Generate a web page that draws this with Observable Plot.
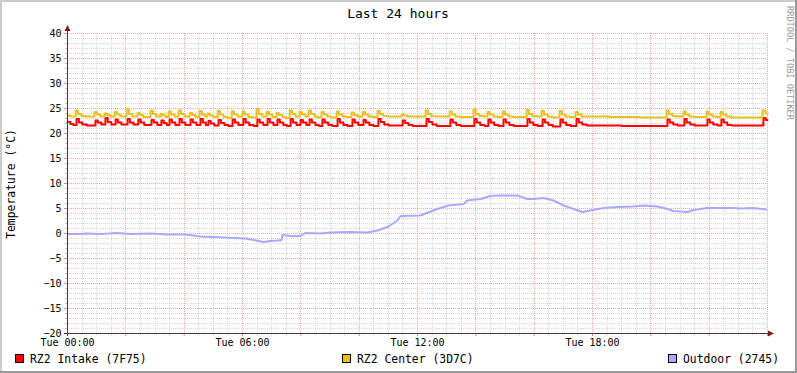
<!DOCTYPE html>
<html><head><meta charset="utf-8">
<script src="https://cdn.jsdelivr.net/npm/d3@7"></script>
<script src="https://cdn.jsdelivr.net/npm/@observablehq/plot@0.6"></script>
<style>
html,body{margin:0;padding:0;background:#fff;}
#chart{width:797px;height:373px;position:relative;overflow:hidden;}
svg{display:block;}
</style></head><body><div id="chart"></div>
<script>
// ---- data (hours since Tue 00:00, °C) ----
const titleText = "Last 24 hours";
const yAxisLabel = "Temperature (°C)";
const watermark = "RRDTOOL / TOBI OETIKER";
const seriesNames = ["RZ2 Intake (7F75)", "RZ2 Center (3D7C)", "Outdoor (2745)"];
const seriesColors = ["#ff0000", "#e9c020", "#a8a8ff"];
const xTickHours = [0, 6, 12, 18];
const xTickLabels = ["Tue 00:00", "Tue 06:00", "Tue 12:00", "Tue 18:00"];
const yTickValues = [-20, -15, -10, -5, 0, 5, 10, 15, 20, 25, 30, 35, 40];

const intake = [
[0.00,22.3],[0.10,21.9],[0.20,21.7],
[0.31,22.9],[0.39,22.2],[0.51,21.8],[0.66,21.6],
[0.96,22.6],[1.04,22.2],[1.16,21.8],
[1.30,23.1],[1.38,22.3],[1.50,21.8],
[1.65,22.8],[1.73,22.2],[1.85,21.8],
[2.06,22.9],[2.14,22.2],[2.26,21.8],
[2.43,22.8],[2.51,22.2],[2.63,21.7],
[2.88,22.7],[2.96,22.2],[3.08,21.7],
[3.22,22.6],[3.30,22.1],[3.40,21.7],
[3.50,22.8],[3.58,22.2],[3.70,21.7],
[3.84,22.9],[3.92,22.2],[4.04,21.7],
[4.22,22.8],[4.30,22.2],[4.42,21.7],
[4.56,22.9],[4.64,22.2],[4.74,21.7],
[4.83,22.5],[4.91,22.0],[5.03,21.6],
[5.18,22.7],[5.26,22.1],[5.38,21.7],[5.52,21.5],
[5.66,22.8],[5.74,22.2],[5.86,21.7],
[6.03,22.9],[6.11,22.2],[6.23,21.7],[6.38,21.5],
[6.51,22.8],[6.59,22.2],[6.71,21.7],
[6.86,22.9],[6.94,22.2],[7.06,21.7],
[7.20,22.8],[7.28,22.2],[7.40,21.7],[7.52,21.5],
[7.65,22.9],[7.73,22.2],[7.85,21.7],
[7.99,22.7],[8.07,22.2],[8.19,21.7],
[8.30,22.8],[8.38,22.2],[8.50,21.7],[8.62,21.5],
[8.74,22.8],[8.82,22.2],[8.94,21.7],[9.08,21.5],
[9.26,22.9],[9.34,22.2],[9.46,21.7],[9.60,21.5],
[9.77,22.8],[9.85,22.2],[9.97,21.7],
[10.15,22.7],[10.23,22.2],[10.35,21.7],[10.49,21.5],
[10.66,22.9],[10.74,22.3],[10.86,21.8],[11.01,21.6],
[11.49,22.6],[11.57,22.1],[11.69,21.7],[11.84,21.5],
[12.31,22.9],[12.39,22.3],[12.51,21.8],[12.66,21.5],
[13.13,22.8],[13.21,22.2],[13.33,21.7],[13.48,21.5],
[13.95,22.9],[14.03,22.2],[14.15,21.7],[14.30,21.5],
[14.43,22.8],[14.51,22.2],[14.63,21.7],[14.78,21.5],
[14.95,22.8],[15.03,22.2],[15.15,21.7],[15.30,21.5],
[15.77,22.9],[15.85,22.2],[15.97,21.7],[16.12,21.5],
[16.29,22.8],[16.37,22.2],[16.49,21.7],[16.64,21.4],
[16.90,22.8],[16.98,22.2],[17.10,21.7],[17.25,21.5],
[17.45,22.9],[17.53,22.2],[17.65,21.8],[17.80,21.6],[19.00,21.5],
[20.57,22.8],[20.65,22.2],[20.77,21.8],[20.92,21.6],
[21.15,22.9],[21.23,22.2],[21.35,21.8],[21.50,21.6],
[21.94,22.8],[22.02,22.2],[22.14,21.8],[22.29,21.6],
[22.42,22.8],[22.50,22.2],[22.62,21.7],[22.77,21.6],
[23.86,23.1],[23.94,22.7],[24.00,22.7]
];

const center = [
[0.00,23.6],[0.10,23.4],
[0.28,24.6],[0.36,23.9],[0.48,23.5],[0.63,23.4],
[0.93,24.3],[1.01,23.8],[1.13,23.4],
[1.27,24.0],[1.35,23.7],[1.47,23.4],
[1.62,24.3],[1.70,23.8],[1.82,23.4],
[2.03,24.8],[2.11,23.9],[2.23,23.4],
[2.40,24.1],[2.48,23.7],[2.60,23.3],
[2.85,24.6],[2.93,23.9],[3.05,23.4],
[3.19,23.9],[3.27,23.6],[3.37,23.3],
[3.47,24.4],[3.55,23.8],[3.67,23.4],
[3.81,24.6],[3.89,23.9],[4.01,23.4],
[4.19,24.1],[4.27,23.7],[4.39,23.3],
[4.53,24.5],[4.61,23.8],[4.71,23.4],
[4.80,24.0],[4.88,23.6],[5.00,23.3],
[5.15,24.5],[5.23,23.8],[5.35,23.3],[5.49,23.1],
[5.63,24.4],[5.71,23.8],[5.83,23.4],
[6.00,24.4],[6.08,23.8],[6.20,23.3],[6.35,23.2],
[6.48,24.9],[6.56,23.9],[6.68,23.4],
[6.83,24.3],[6.91,23.8],[7.03,23.3],
[7.17,24.1],[7.25,23.7],[7.37,23.3],[7.49,23.1],
[7.62,24.6],[7.70,23.9],[7.82,23.4],
[7.96,24.3],[8.04,23.8],[8.16,23.4],
[8.27,24.6],[8.35,23.9],[8.47,23.4],[8.59,23.2],
[8.71,24.3],[8.79,23.8],[8.91,23.4],[9.05,23.2],
[9.23,24.4],[9.31,23.8],[9.43,23.4],[9.57,23.3],
[9.74,24.2],[9.82,23.7],[9.94,23.4],
[10.12,24.3],[10.20,23.8],[10.32,23.4],[10.46,23.3],
[10.63,24.5],[10.71,23.9],[10.83,23.5],[10.98,23.4],
[11.46,23.8],[11.54,23.6],[11.66,23.4],
[12.28,24.6],[12.36,23.9],[12.48,23.5],[12.63,23.4],
[13.10,24.4],[13.18,23.8],[13.30,23.4],[13.45,23.3],
[13.92,24.8],[14.00,23.9],[14.12,23.5],[14.27,23.4],
[14.40,24.3],[14.48,23.8],[14.60,23.4],[14.75,23.3],
[14.92,24.4],[15.00,23.8],[15.12,23.4],[15.27,23.3],
[15.74,24.7],[15.82,23.9],[15.94,23.5],[16.09,23.4],
[16.26,24.5],[16.34,23.8],[16.46,23.4],[16.61,23.2],
[16.87,24.5],[16.95,23.8],[17.07,23.4],[17.22,23.3],
[17.42,24.3],[17.50,23.8],[17.62,23.4],[18.60,23.3],[19.60,23.2],
[20.54,24.6],[20.62,23.9],[20.74,23.5],[20.89,23.4],
[21.12,24.4],[21.20,23.8],[21.32,23.4],[21.47,23.3],
[21.91,24.4],[21.99,23.8],[22.11,23.4],[22.26,23.3],
[22.39,24.3],[22.47,23.8],[22.59,23.4],[22.74,23.2],
[23.83,24.6],[23.93,24.0],[24.00,23.9]
];

const outdoor = [
[0.00,-0.1],[0.45,-0.1],[0.62,0.0],[1.13,-0.1],[1.71,0.1],[2.16,-0.1],[2.85,0.0],
[3.43,-0.2],[4.05,-0.2],[4.56,-0.6],[5.07,-0.7],[5.69,-0.9],[6.10,-1.0],[6.38,-1.3],
[6.72,-1.7],[6.96,-1.5],[7.20,-1.4],[7.34,-1.3],[7.37,-0.3],[7.65,-0.5],[7.99,-0.5],
[8.16,0.1],[8.67,0.0],[9.02,0.2],[9.70,0.3],[10.29,0.2],[10.63,0.6],[10.97,1.3],
[11.31,2.6],[11.42,3.5],[12.10,3.6],[12.27,4.0],[12.55,4.6],[12.69,4.9],[13.06,5.6],
[13.58,5.9],[13.71,6.6],[14.16,6.9],[14.50,7.5],[14.85,7.6],[15.43,7.6],[15.77,6.9],
[15.98,6.9],[16.32,7.1],[16.66,6.6],[17.01,5.6],[17.35,4.9],[17.66,4.3],[17.93,4.6],
[18.38,5.1],[18.86,5.3],[19.41,5.4],[19.75,5.6],[20.23,5.4],[20.57,4.9],[20.78,4.5],
[21.26,4.3],[21.47,4.7],[21.94,5.1],[22.83,5.1],[23.07,5.0],[23.52,5.1],[23.97,4.8]
];

// ---- grid positions ----
const xMajor = d3.range(2, 24.001, 2);
const xMinor = d3.range(0.5, 24.001, 0.5).filter(h => h % 2 !== 0);
const yMajor = d3.range(-15, 40.001, 5);
const yMinor = d3.range(-19, 40.001, 1).filter(v => v % 5 !== 0);

const FONT = "'DejaVu Sans Mono', monospace";
const gridMinor = "#d6d6d6", gridMajor = "#f0a8a8";

const chart = Plot.plot({
  width: 797, height: 373,
  marginLeft: 67, marginRight: 30, marginTop: 33, marginBottom: 40,
  style: {fontFamily: FONT, fontSize: "10px", background: "#fff", color: "#000", overflow: "visible"},
  x: {domain: [0, 24]},
  y: {domain: [-20, 40]},
  marks: [
    Plot.ruleX(xMinor, {stroke: gridMinor, strokeDasharray: "1,1", shapeRendering: "crispEdges"}),
    Plot.ruleY(yMinor, {stroke: gridMinor, strokeDasharray: "1,1", shapeRendering: "crispEdges"}),
    Plot.ruleX(xMajor, {stroke: gridMajor, strokeDasharray: "1,1", shapeRendering: "crispEdges"}),
    Plot.ruleY(yMajor, {stroke: gridMajor, strokeDasharray: "1,1", shapeRendering: "crispEdges"}),
    Plot.axisX(xMinor, {tickSize: 2, stroke: "#c0c0c0", tickFormat: () => "", label: null}),
    Plot.axisX(xMajor, {tickSize: 3, stroke: "#e08888", tickFormat: () => "", label: null}),
    Plot.axisX(xTickHours, {tickSize: 0, tickPadding: 5, tickFormat: (d) => xTickLabels[xTickHours.indexOf(d)], fill: "#000", label: null, fontSize: 10}),
    Plot.axisY(yMinor, {tickSize: 2, stroke: "#c0c0c0", tickFormat: () => "", label: null}),
    Plot.axisY(yTickValues, {tickSize: 3, tickPadding: 3, stroke: "#e08888", fill: "#000", label: null, fontSize: 10}),
    Plot.line(intake, {x: d => d[0], y: d => d[1], stroke: seriesColors[0], strokeWidth: 2, curve: "step-after"}),
    Plot.line(center, {x: d => d[0], y: d => d[1], stroke: seriesColors[1], strokeWidth: 2, curve: "step-after"}),
    Plot.line(outdoor, {x: d => d[0], y: d => d[1], stroke: seriesColors[2], strokeWidth: 2})
  ]
});

document.getElementById("chart").appendChild(chart);

// ---- decorations: axes with arrows, titles, legend, frame ----
const sx = chart.scale("x"), sy = chart.scale("y");
const X0 = sx.apply(0), X1 = sx.apply(24), Y0 = sy.apply(-20), Y1 = sy.apply(40);
const svg = d3.select(chart);
const axisColor = "#4d3535", arrowColor = "#7f1a1a";
const g = svg.append("g").attr("text-anchor", "start");
g.append("line").attr("x1", X0 - 3).attr("x2", X1 + 3).attr("y1", Y0 + 0.5).attr("y2", Y0 + 0.5)
  .attr("stroke", axisColor).attr("stroke-width", 1);
g.append("line").attr("x1", X0 + 0.5).attr("x2", X0 + 0.5).attr("y1", Y0 + 3).attr("y2", Y1 - 3)
  .attr("stroke", axisColor).attr("stroke-width", 1);
g.append("path").attr("d", `M${X1 + 1},${Y0 - 2.5}L${X1 + 7},${Y0 + 0.5}L${X1 + 1},${Y0 + 3.5}Z`).attr("fill", arrowColor);
g.append("path").attr("d", `M${X0 - 2.5},${Y1 - 2}L${X0 + 0.5},${Y1 - 8}L${X0 + 3.5},${Y1 - 2}Z`).attr("fill", arrowColor);

g.append("text").text(titleText).attr("x", 398).attr("y", 18).attr("text-anchor", "middle")
  .attr("font-family", FONT).attr("font-size", 13).attr("fill", "#000");
g.append("text").text(yAxisLabel).attr("transform", "translate(15,184) rotate(-90)").attr("text-anchor", "middle")
  .attr("font-family", FONT).attr("font-size", 11.4).attr("fill", "#000");
g.append("text").text(watermark).attr("transform", "translate(786.5,63) rotate(90)").attr("text-anchor", "middle")
  .attr("font-family", FONT).attr("font-size", 8.6).attr("fill", "#9c9c9c");

const legendX = [15, 342, 668];
seriesNames.forEach((name, i) => {
  g.append("rect").attr("x", legendX[i] + 0.5).attr("y", 354.5).attr("width", 8).attr("height", 8)
    .attr("fill", seriesColors[i]).attr("stroke", "#000").attr("stroke-width", 1);
  g.append("text").text(name).attr("x", legendX[i] + 15).attr("y", 363).attr("text-anchor", "start")
    .attr("font-family", FONT).attr("font-size", 11.4).attr("fill", "#000");
});

// shaded frame
g.append("path").attr("d", "M0,1H797M1,0V373").attr("stroke", "#cbcbcb").attr("stroke-width", 2);
g.append("path").attr("d", "M0,372H797M796,0V373").attr("stroke", "#999").attr("stroke-width", 2);
</script>
</body></html>
